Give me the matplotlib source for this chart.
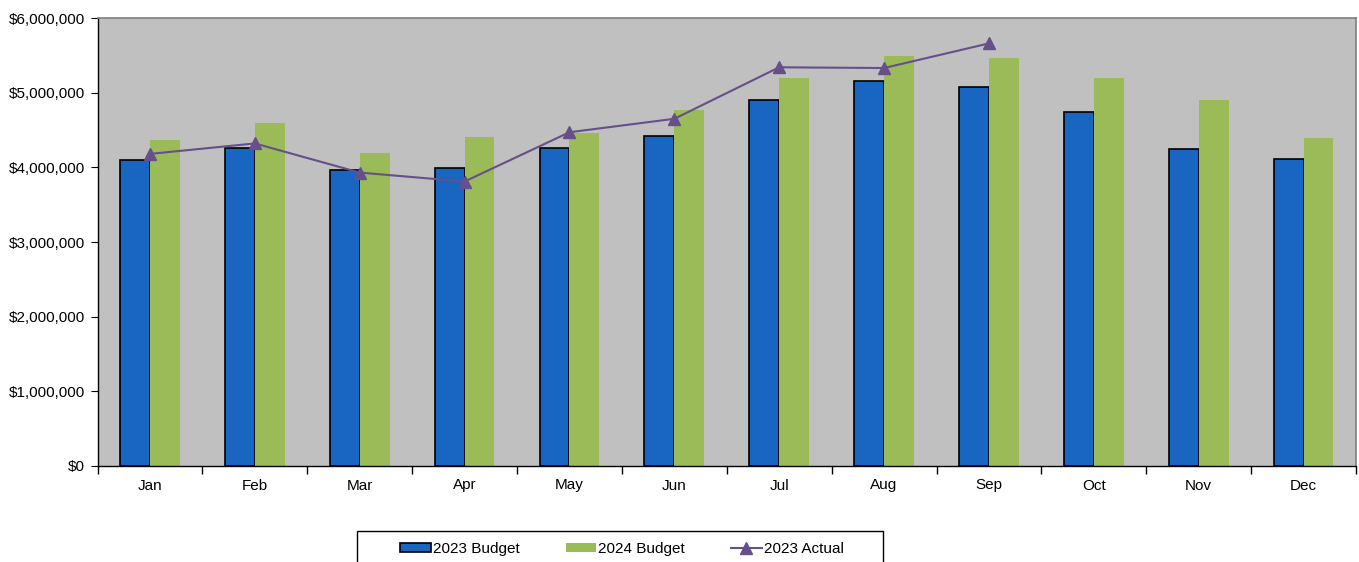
import numpy as np
import matplotlib.pyplot as plt
from matplotlib.patches import Rectangle
from matplotlib.ticker import FuncFormatter, MultipleLocator

plt.rcParams['font.family'] = ['Liberation Sans', 'DejaVu Sans']

months = ['Jan', 'Feb', 'Mar', 'Apr', 'May', 'Jun',
          'Jul', 'Aug', 'Sep', 'Oct', 'Nov', 'Dec']
budget_2023 = [4100000, 4260000, 3970000, 3990000, 4260000, 4420000,
               4900000, 5160000, 5080000, 4740000, 4240000, 4110000]
budget_2024 = [4370000, 4600000, 4190000, 4400000, 4460000, 4770000,
               5190000, 5490000, 5470000, 5200000, 4900000, 4390000]
actual_2023 = [4180000, 4320000, 3930000, 3810000, 4470000, 4650000,
               5340000, 5330000, 5660000]

fig = plt.figure(figsize=(13.59, 5.62), dpi=100)
ax = fig.add_axes([97.5 / 1359, 1 - 466 / 562, (1356 - 97.5) / 1359, (466 - 18) / 562])
ax.set_facecolor('#c0c0c0')

x = np.arange(len(months))
w = 0.285
b1 = ax.bar(x - w / 2, budget_2023, w, color='#1865c2', edgecolor='black',
            linewidth=1.2, label='2023 Budget', zorder=2)
b2 = ax.bar(x + w / 2, budget_2024, w, color='#9bbb59', label='2024 Budget', zorder=2)
l1, = ax.plot(x[:len(actual_2023)], actual_2023, color='#664f8a', linewidth=1.5,
              marker='^', markersize=9, label='2023 Actual', zorder=3)

ax.set_xlim(-0.5, len(months) - 0.5)
ax.set_ylim(0, 6000000)
ax.yaxis.set_major_locator(MultipleLocator(1000000))
ax.yaxis.set_major_formatter(FuncFormatter(lambda v, p: '${:,.0f}'.format(v)))
ax.set_xticks(x)
ax.set_xticklabels(months)
ax.set_xticks(np.arange(-0.5, len(months)), minor=True)
ax.tick_params(axis='x', which='major', length=0, pad=9, labelsize=11)
ax.tick_params(axis='x', which='minor', length=6, direction='out', width=1)
ax.tick_params(axis='y', length=5, direction='out', labelsize=11, pad=4)

for s in ['top', 'right']:
    ax.spines[s].set_color('#808080')
    ax.spines[s].set_linewidth(1.2)
for s in ['left', 'bottom']:
    ax.spines[s].set_color('black')
    ax.spines[s].set_linewidth(1)

# legend box (cut off by the bottom edge, as in the original)
fig.patches.append(Rectangle((357 / 1359, -0.05), 526 / 1359, 0.05 + (562 - 531) / 562,
                             transform=fig.transFigure, facecolor='white',
                             edgecolor='black', linewidth=1))
fig.legend([b1, b2, l1], ['2023 Budget', '2024 Budget', '2023 Actual'],
           loc='center', ncol=3, frameon=False,
           bbox_to_anchor=(622 / 1359, 1 - 549 / 562),
           fontsize=11, handlelength=2.0, handleheight=0.5, handletextpad=0.15,
           columnspacing=3.0, borderaxespad=0)

fig.savefig('out.png', dpi=100)
